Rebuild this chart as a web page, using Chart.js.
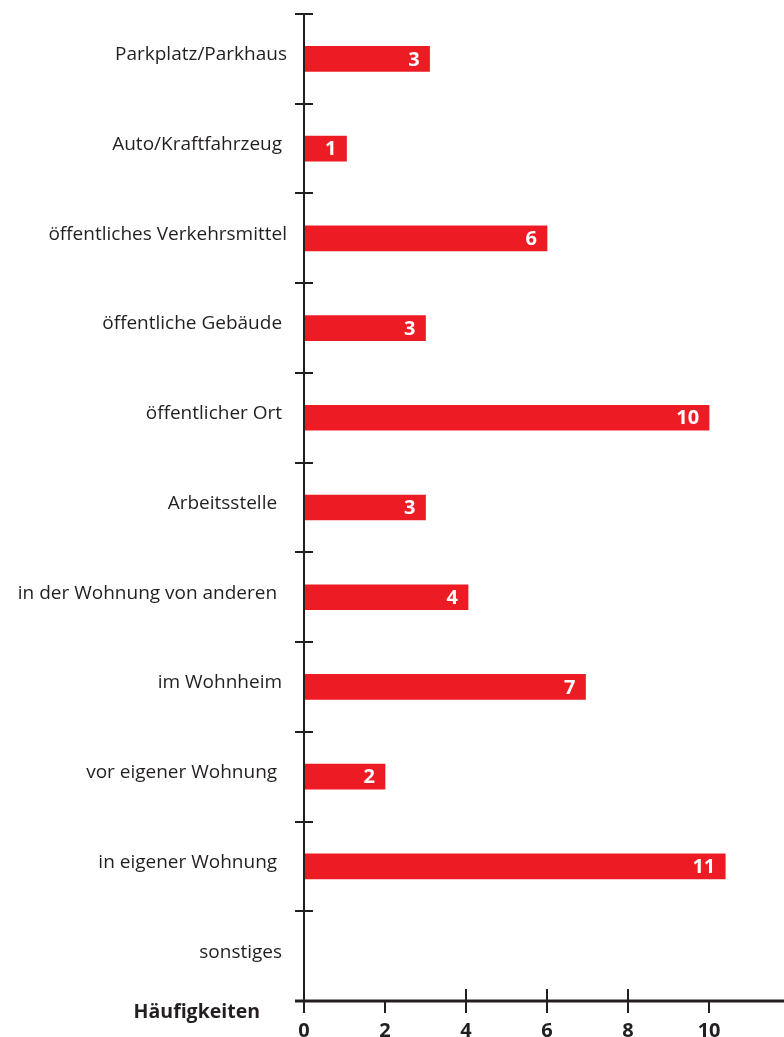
<!DOCTYPE html>
<html>
<head>
<meta charset="utf-8">
<script src="https://cdn.jsdelivr.net/npm/chart.js@4"></script>
<style>
  html, body { margin: 0; padding: 0; background: #fff; }
  #wrap { width: 784px; height: 1037px; position: relative; }
</style>
</head>
<body>
<div id="wrap"><canvas id="chart"></canvas></div>
<script>
'use strict';

// trailing spaces kept as in the source figure
const categories = [
  'Parkplatz/Parkhaus',
  'Auto/Kraftfahrzeug ',
  'öffentliches Verkehrsmittel',
  'öffentliche Gebäude ',
  'öffentlicher Ort ',
  'Arbeitsstelle  ',
  'in der Wohnung von anderen  ',
  'im Wohnheim ',
  'vor eigener Wohnung  ',
  'in eigener Wohnung  ',
  'sonstiges ',
];
// bar lengths as drawn in the picture
const barLengths = [3.1, 1.05, 6, 3, 10, 3, 4.05, 6.95, 2, 10.4, null];
// numbers printed in the bars
const valueLabels = ['3', '1', '6', '3', '10', '3', '4', '7', '2', '11', ''];
const xTicks = [0, 2, 4, 6, 8, 10];
const xMax = 11.85;
const axisTitle = 'Häufigkeiten';

const ink = '#231f20';
const red = '#ed1c24';
const ctx = document.getElementById('chart').getContext('2d');

// axes lines, crossing ticks, values inside the bars and the title
const drawExtras = {
  id: 'drawExtras',
  afterDatasetsDraw(chart) {
    const c = chart.ctx;
    const area = chart.chartArea;
    const xs = chart.scales.x;
    const ys = chart.scales.y;

    c.save();
    c.strokeStyle = ink;

    // y axis
    c.lineWidth = 2;
    c.beginPath();
    c.moveTo(area.left, area.top);
    c.lineTo(area.left, area.bottom + 12);
    c.stroke();

    // category boundary ticks
    const step = ys.getPixelForValue(1) - ys.getPixelForValue(0);
    for (let i = 0; i < categories.length; i++) {
      const y = Math.round(ys.getPixelForValue(i) - step / 2);
      c.beginPath();
      c.moveTo(area.left - 9, y);
      c.lineTo(area.left + 9, y);
      c.stroke();
    }

    // x axis
    c.lineWidth = 3;
    c.beginPath();
    c.moveTo(area.left - 9, area.bottom);
    c.lineTo(chart.width, area.bottom);
    c.stroke();

    c.lineWidth = 2;
    xTicks.forEach(v => {
      if (v === 0) return;
      const x = Math.round(xs.getPixelForValue(v));
      const up = v >= 4 && v <= 8 ? 12 : 0;
      c.beginPath();
      c.moveTo(x, area.bottom - up);
      c.lineTo(x, area.bottom + 12);
      c.stroke();
    });

    // numbers in the bars
    const meta = chart.getDatasetMeta(0);
    c.fillStyle = '#fff';
    c.font = 'bold 20px "Open Sans", sans-serif';
    c.textAlign = 'right';
    c.textBaseline = 'middle';
    meta.data.forEach((bar, i) => {
      if (!valueLabels[i]) return;
      c.fillText(valueLabels[i], bar.x - 10, bar.y + 1);
    });

    // axis title
    c.fillStyle = ink;
    c.font = 'bold 19.5px "Open Sans", sans-serif';
    c.textAlign = 'right';
    c.fillText(axisTitle, area.left - 44, area.bottom + 11);
    c.restore();
  },
};

new Chart(ctx, {
  type: 'bar',
  data: {
    labels: categories,
    datasets: [
      {
        data: barLengths,
        backgroundColor: red,
        borderWidth: 0,
        barThickness: 25,
      },
    ],
  },
  options: {
    indexAxis: 'y',
    responsive: true,
    maintainAspectRatio: false,
    animation: false,
    layout: { padding: { top: 14, right: 0, left: 0, bottom: 0 } },
    scales: {
      x: {
        min: 0,
        max: xMax,
        afterBuildTicks: scale => {
          scale.ticks = xTicks.map(v => ({ value: v }));
        },
        afterFit: scale => {
          scale.height = 36;
          scale.paddingLeft = 0;
          scale.paddingRight = 0;
        },
        grid: { display: false, drawTicks: false },
        border: { display: false },
        ticks: {
          color: ink,
          padding: 18,
          maxRotation: 0,
          font: { family: '"Open Sans", sans-serif', size: 20, weight: 'bold' },
        },
      },
      y: {
        afterFit: scale => {
          scale.width = 304;
          scale.paddingTop = 0;
          scale.paddingBottom = 0;
        },
        grid: { display: false, drawTicks: false },
        border: { display: false },
        ticks: {
          color: ink,
          padding: 17,
          labelOffset: -4,
          autoSkip: false,
          font: { family: '"Open Sans", sans-serif', size: 19 },
        },
      },
    },
    plugins: {
      legend: { display: false },
      tooltip: { enabled: false },
    },
  },
  plugins: [drawExtras],
});
</script>
</body>
</html>
